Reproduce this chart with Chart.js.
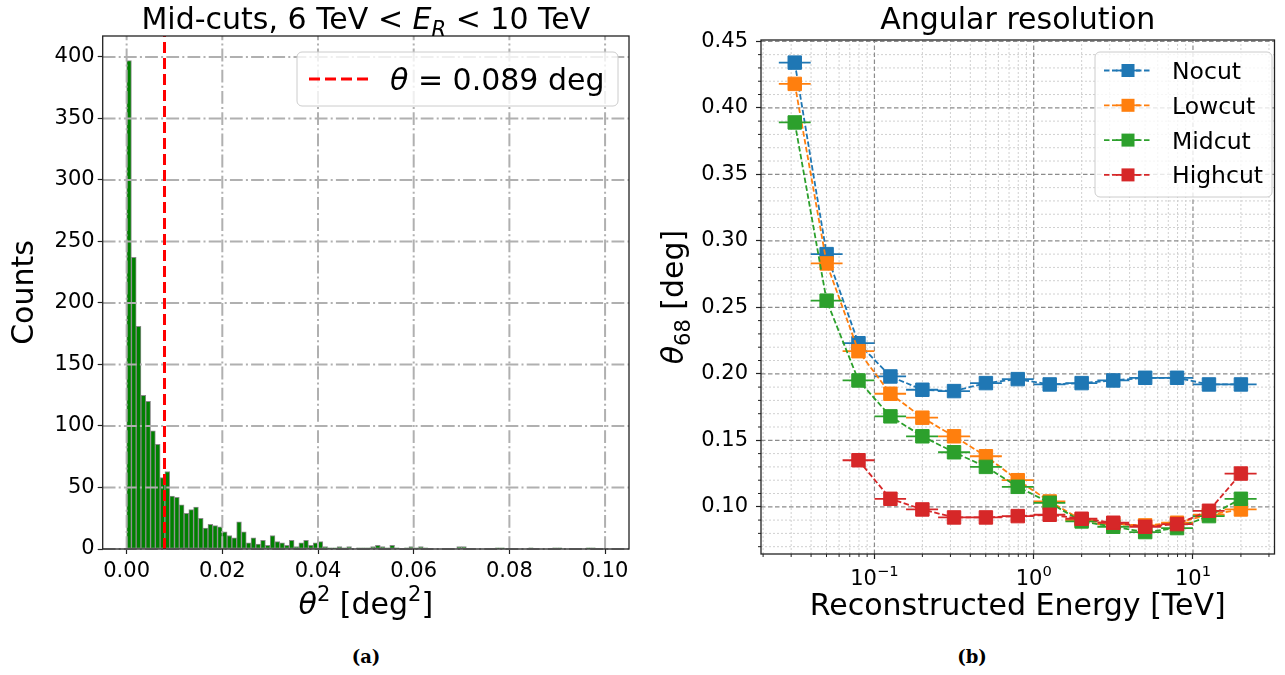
<!DOCTYPE html>
<html>
<head>
<meta charset="utf-8">
<script src="https://cdn.jsdelivr.net/npm/chart.js@4.4.1/dist/chart.umd.min.js"></script>
<style>
  body { margin: 0; background: #fff; width: 1285px; height: 675px; position: relative; overflow: hidden; }
  #histo { position: absolute; left: 0; top: 0; }
  #resol { position: absolute; left: 640px; top: 0; }
  .cap { position: absolute; top: 646px; font: bold 18px "DejaVu Serif", serif; transform: translateX(-50%); }
</style>
</head>
<body>
<canvas id="histo" width="640" height="640"></canvas>
<canvas id="resol" width="645" height="640"></canvas>
<div class="cap" style="left:366px">(a)</div>
<div class="cap" style="left:972px">(b)</div>
<script>
// --- theta^2 histogram (mid-cuts, 6-10 TeV) ---
const HIST_BIN_START = 0;
const HIST_BIN_WIDTH = 0.001;
const HIST_COUNTS = [
  397, 237, 181, 125, 120, 96, 85, 58, 63, 43,
  42, 36, 29, 32, 34, 25, 17, 20, 19, 18,
  14, 11, 9, 22, 14, 5, 9, 4, 7, 3,
  11, 6, 5, 3, 7, 2, 5, 7, 3, 5,
  6, 2, 1, 1, 2, 1, 2, 0, 1, 1,
  1, 2, 3, 2, 1, 3, 1, 0, 1, 2,
  1, 2, 1, 0, 0, 0, 0, 0, 0, 2,
  2, 0, 0, 0, 0, 0, 0, 1, 1, 0,
  0, 0, 0, 0, 1, 0, 0, 0, 0, 1,
  1, 0, 0, 0, 0, 0, 1, 1, 0, 0
];
const THETA_CUT = 0.089; // deg
const HIST_X_TICKS = [0, 0.02, 0.04, 0.06, 0.08, 0.10];
const HIST_Y_TICKS = [0, 50, 100, 150, 200, 250, 300, 350, 400];
const HIST_X_RANGE = [-0.005, 0.105];
const HIST_Y_RANGE = [0, 417];

// --- angular resolution vs reconstructed energy ---
const ENERGY    = [0.0316, 0.0501, 0.0794, 0.126, 0.200, 0.316, 0.501, 0.794, 1.26, 2.00, 3.16, 5.01, 7.94, 12.6, 20.0];
const ENERGY_LO = [0.0251, 0.0398, 0.0631, 0.100, 0.158, 0.251, 0.398, 0.631, 1.00, 1.58, 2.51, 3.98, 6.31, 10.0, 15.8];
const ENERGY_HI = [0.0398, 0.0631, 0.100, 0.158, 0.251, 0.398, 0.631, 1.00, 1.58, 2.51, 3.98, 6.31, 10.0, 15.8, 25.1];
const NOCUT   = [0.434, 0.290, 0.223, 0.198, 0.188, 0.187, 0.193, 0.196, 0.192, 0.193, 0.195, 0.197, 0.197, 0.192, 0.192];
const LOWCUT  = [0.418, 0.283, 0.217, 0.185, 0.167, 0.153, 0.138, 0.120, 0.104, 0.090, 0.087, 0.086, 0.088, 0.094, 0.098];
const MIDCUT  = [0.389, 0.255, 0.195, 0.168, 0.153, 0.141, 0.130, 0.115, 0.103, 0.089, 0.085, 0.081, 0.084, 0.093, 0.106];
const HIGHCUT = [null, null, 0.135, 0.106, 0.098, 0.092, 0.092, 0.093, 0.094, 0.091, 0.088, 0.085, 0.087, 0.097, 0.125];
const SERIES_NAMES = ['Nocut', 'Lowcut', 'Midcut', 'Highcut'];
const SERIES_COLORS = ['#1f77b4', '#ff7f0e', '#2ca02c', '#d62728'];
const RES_X_TICKS = [0.1, 1, 10];
const RES_Y_TICKS = [0.10, 0.15, 0.20, 0.25, 0.30, 0.35, 0.40, 0.45];
const RES_X_RANGE = [0.0194, 32.5];
const RES_Y_RANGE = [0.0645, 0.451];

const FONT = '"DejaVu Sans", sans-serif';
const TICK_SIZE = 21;
const LABEL_SIZE = 30;
Chart.defaults.font.family = FONT;
Chart.defaults.color = '#000';

// draws text made of plain / italic / sub / sup pieces
function drawRich(ctx, parts, x, baseline, size, align) {
  let total = 0;
  const items = parts.map(([t, st]) => {
    const small = st.includes('sub') || st.includes('sup');
    const font = (st.includes('i') ? 'italic ' : '') + (small ? size * 0.7 : size) + 'px ' + FONT;
    ctx.font = font;
    const w = ctx.measureText(t).width;
    total += w;
    const dy = st.includes('sub') ? size * 0.22 : st.includes('sup') ? -size * 0.42 : 0;
    return { t, font, w, dy };
  });
  let cx = align === 'center' ? x - total / 2 : align === 'right' ? x - total : x;
  ctx.textAlign = 'left';
  ctx.textBaseline = 'alphabetic';
  items.forEach(it => {
    ctx.font = it.font;
    ctx.fillText(it.t, cx, baseline + it.dy);
    cx += it.w;
  });
}

function strokeLine(ctx, x1, y1, x2, y2) {
  ctx.beginPath();
  ctx.moveTo(x1, y1);
  ctx.lineTo(x2, y2);
  ctx.stroke();
}

function drawFrame(ctx, a) {
  ctx.save();
  ctx.strokeStyle = '#222';
  ctx.lineWidth = 1.3;
  ctx.setLineDash([]);
  ctx.strokeRect(a.left, a.top, a.right - a.left, a.bottom - a.top);
  ctx.restore();
}

function legendBox(ctx, x, y, w, h) {
  ctx.save();
  ctx.fillStyle = 'rgba(255,255,255,0.8)';
  ctx.strokeStyle = '#cccccc';
  ctx.lineWidth = 1;
  ctx.beginPath();
  ctx.roundRect(x, y, w, h, 5);
  ctx.fill();
  ctx.stroke();
  ctx.restore();
}

const histDecor = {
  id: 'histDecor',
  afterDatasetDraw(chart, args) {
    if (args.meta.type !== 'bar') return;
    const { ctx, chartArea: a, scales: { x, y } } = chart;
    ctx.save();
    ctx.strokeStyle = '#b0b0b0';
    ctx.lineWidth = 2;
    ctx.setLineDash([12.8, 3.2, 2, 3.2]);
    HIST_X_TICKS.forEach(v => {
      const px = x.getPixelForValue(v);
      strokeLine(ctx, px, a.bottom, px, a.top);
    });
    HIST_Y_TICKS.forEach(v => {
      const py = y.getPixelForValue(v);
      strokeLine(ctx, a.left, py, a.right, py);
    });
    ctx.restore();
  },
  afterDraw(chart) {
    const { ctx, chartArea: a } = chart;
    drawFrame(ctx, a);
    const mid = (a.left + a.right) / 2;
    ctx.fillStyle = '#000';
    drawRich(ctx, [['Mid-cuts, 6 TeV < ', ''], ['E', 'i'], ['R', 'isub'], [' < 10 TeV', '']], mid, 29, LABEL_SIZE, 'center');
    drawRich(ctx, [['θ', 'i'], ['2', 'sup'], [' [deg', ''], ['2', 'sup'], [']', '']], mid, 614, LABEL_SIZE, 'center');
    ctx.save();
    ctx.translate(33, (a.top + a.bottom) / 2);
    ctx.rotate(-Math.PI / 2);
    drawRich(ctx, [['Counts', '']], 0, 0, LABEL_SIZE, 'center');
    ctx.restore();

    // legend for the cut line
    legendBox(ctx, 297, 52, 321, 54);
    ctx.save();
    ctx.strokeStyle = '#ff0000';
    ctx.lineWidth = 3;
    ctx.setLineDash([11, 5]);
    strokeLine(ctx, 309, 79, 368, 79);
    ctx.restore();
    ctx.fillStyle = '#000';
    drawRich(ctx, [['θ', 'i'], [' = ' + THETA_CUT.toFixed(3) + ' deg', '']], 390, 90, LABEL_SIZE, 'left');
  }
};

const cutX = THETA_CUT * THETA_CUT;

new Chart(document.getElementById('histo'), {
  type: 'bar',
  data: {
    datasets: [
      {
        type: 'line',
        data: [{ x: cutX, y: HIST_Y_RANGE[0] }, { x: cutX, y: HIST_Y_RANGE[1] }],
        borderColor: '#ff0000',
        borderWidth: 3,
        borderDash: [11, 5],
        pointRadius: 0,
        fill: false
      },
      {
        type: 'bar',
        data: HIST_COUNTS.map((c, i) => ({ x: HIST_BIN_START + (i + 0.5) * HIST_BIN_WIDTH, y: c })),
        backgroundColor: '#008000',
        borderColor: '#8a8a8a',
        borderWidth: 1,
        borderSkipped: false,
        barPercentage: 1,
        categoryPercentage: 1
      }
    ]
  },
  options: {
    responsive: false,
    animation: false,
    layout: { padding: { left: 0, right: 11, top: 36, bottom: 0 } },
    plugins: { legend: { display: false }, tooltip: { enabled: false } },
    scales: {
      x: {
        type: 'linear',
        min: HIST_X_RANGE[0],
        max: HIST_X_RANGE[1],
        offset: false,
        grid: { drawOnChartArea: false, offset: false, tickLength: 5, tickColor: '#222', tickWidth: 1.2 },
        border: { display: false },
        ticks: { font: { size: TICK_SIZE }, color: '#000', padding: 5, maxRotation: 0, autoSkip: false, callback: v => v.toFixed(2) },
        afterBuildTicks: s => { s.ticks = HIST_X_TICKS.map(v => ({ value: v })); },
        afterFit: s => { s.height = 91; }
      },
      y: {
        type: 'linear',
        min: HIST_Y_RANGE[0],
        max: HIST_Y_RANGE[1],
        grid: { drawOnChartArea: false, tickLength: 5, tickColor: '#222', tickWidth: 1.2 },
        border: { display: false },
        ticks: { font: { size: TICK_SIZE }, color: '#000', padding: 3, autoSkip: false },
        afterBuildTicks: s => { s.ticks = HIST_Y_TICKS.map(v => ({ value: v })); },
        afterFit: s => { s.width = 102.7; }
      }
    }
  },
  plugins: [histDecor]
});

const SERIES = [NOCUT, LOWCUT, MIDCUT, HIGHCUT];

const resDecor = {
  id: 'resDecor',
  beforeDatasetsDraw(chart) {
    const { ctx, chartArea: a, scales: { x, y } } = chart;
    ctx.save();
    // minor grid
    ctx.strokeStyle = '#d0d0d0';
    ctx.lineWidth = 1;
    ctx.setLineDash([2, 2]);
    for (let d = -2; d <= 1; d++) {
      for (let k = 2; k <= 9; k++) {
        const v = k * Math.pow(10, d);
        if (v <= RES_X_RANGE[0] || v >= RES_X_RANGE[1]) continue;
        const px = x.getPixelForValue(v);
        strokeLine(ctx, px, a.bottom, px, a.top);
      }
    }
    for (let m = 7; m <= 45; m++) {
      if (m % 5 === 0) continue;
      const py = y.getPixelForValue(m / 100);
      strokeLine(ctx, a.left, py, a.right, py);
    }
    // major grid
    ctx.strokeStyle = '#8c8c8c';
    ctx.lineWidth = 1.2;
    ctx.setLineDash([4.5, 2.5]);
    RES_X_TICKS.forEach(v => {
      const px = x.getPixelForValue(v);
      strokeLine(ctx, px, a.bottom, px, a.top);
    });
    RES_Y_TICKS.forEach(v => {
      const py = y.getPixelForValue(v);
      strokeLine(ctx, a.left, py, a.right, py);
    });
    ctx.restore();
  },
  beforeDatasetDraw(chart, args) {
    // horizontal error bars = energy bin widths
    const { ctx, chartArea: a, scales: { x, y } } = chart;
    const vals = SERIES[args.index];
    ctx.save();
    ctx.beginPath();
    ctx.rect(a.left, a.top, a.right - a.left, a.bottom - a.top);
    ctx.clip();
    ctx.strokeStyle = SERIES_COLORS[args.index];
    ctx.lineWidth = 1.8;
    ctx.setLineDash([]);
    vals.forEach((v, i) => {
      if (v === null) return;
      const py = y.getPixelForValue(v);
      strokeLine(ctx, x.getPixelForValue(ENERGY_LO[i]), py, x.getPixelForValue(ENERGY_HI[i]), py);
    });
    ctx.restore();
  },
  afterDatasetsDraw(chart) {
    const { ctx, chartArea: a, scales: { x, y } } = chart;
    drawFrame(ctx, a);
    // minor tick marks
    ctx.save();
    ctx.strokeStyle = '#222';
    ctx.lineWidth = 1;
    for (let d = -2; d <= 1; d++) {
      for (let k = 2; k <= 9; k++) {
        const v = k * Math.pow(10, d);
        if (v <= RES_X_RANGE[0] || v >= RES_X_RANGE[1]) continue;
        const px = x.getPixelForValue(v);
        strokeLine(ctx, px, a.bottom, px, a.bottom + 3);
      }
    }
    for (let m = 7; m <= 45; m++) {
      if (m % 5 === 0) continue;
      const py = y.getPixelForValue(m / 100);
      strokeLine(ctx, a.left, py, a.left - 3, py);
    }
    ctx.restore();
  },
  afterDraw(chart) {
    const { ctx, chartArea: a, scales: { x } } = chart;
    const mid = (a.left + a.right) / 2;
    ctx.fillStyle = '#000';
    RES_X_TICKS.forEach(v => {
      const e = Math.round(Math.log10(v));
      drawRich(ctx, [['10', ''], [String(e).replace('-', '\u2212'), 'sup']], x.getPixelForValue(v), 585, TICK_SIZE, 'center');
    });
    drawRich(ctx, [['Angular resolution', '']], mid, 29, LABEL_SIZE, 'center');
    drawRich(ctx, [['Reconstructed Energy [TeV]', '']], mid, 615, LABEL_SIZE, 'center');
    ctx.save();
    ctx.translate(43, (a.top + a.bottom) / 2);
    ctx.rotate(-Math.PI / 2);
    drawRich(ctx, [['θ', 'i'], ['68', 'sub'], [' [deg]', '']], 0, 0, LABEL_SIZE, 'center');
    ctx.restore();

    // legend
    legendBox(ctx, 455, 52, 177, 145);
    SERIES_NAMES.forEach((name, i) => {
      const ry = 70.5 + 34.8 * i;
      const col = SERIES_COLORS[i];
      ctx.save();
      ctx.strokeStyle = col;
      ctx.lineWidth = 1.8;
      ctx.setLineDash([5.5, 2.5]);
      strokeLine(ctx, 464, ry, 512, ry);
      ctx.setLineDash([]);
      strokeLine(ctx, 476, ry, 500, ry);
      ctx.fillStyle = col;
      ctx.fillRect(488 - 6.5, ry - 6.5, 13, 13);
      ctx.restore();
      ctx.fillStyle = '#000';
      drawRich(ctx, [[name, '']], 532, ry + 8.5, 23.5, 'left');
    });
  }
};

new Chart(document.getElementById('resol'), {
  type: 'line',
  data: {
    datasets: SERIES.map((vals, i) => ({
      label: SERIES_NAMES[i],
      data: ENERGY.map((e, j) => ({ x: e, y: vals[j] })),
      borderColor: SERIES_COLORS[i],
      backgroundColor: SERIES_COLORS[i],
      borderWidth: 1.8,
      borderDash: [5.5, 2.5],
      pointStyle: 'rect',
      pointRadius: 9.5,
      pointBorderWidth: 1,
      pointBorderColor: SERIES_COLORS[i],
      pointBackgroundColor: SERIES_COLORS[i],
      fill: false,
      tension: 0,
      order: SERIES.length - i
    }))
  },
  options: {
    responsive: false,
    animation: false,
    layout: { padding: { left: 0, right: 8, top: 40, bottom: 0 } },
    plugins: { legend: { display: false }, tooltip: { enabled: false } },
    scales: {
      x: {
        type: 'logarithmic',
        min: RES_X_RANGE[0],
        max: RES_X_RANGE[1],
        grid: { drawOnChartArea: false, tickLength: 5, tickColor: '#222', tickWidth: 1.2 },
        border: { display: false },
        ticks: { display: false, autoSkip: false },
        afterBuildTicks: s => { s.ticks = RES_X_TICKS.map(v => ({ value: v, major: true })); },
        afterFit: s => { s.height = 86; }
      },
      y: {
        type: 'linear',
        min: RES_Y_RANGE[0],
        max: RES_Y_RANGE[1],
        grid: { drawOnChartArea: false, tickLength: 5, tickColor: '#222', tickWidth: 1.2 },
        border: { display: false },
        ticks: { font: { size: TICK_SIZE }, color: '#000', padding: 8, autoSkip: false, callback: v => v.toFixed(2) },
        afterBuildTicks: s => { s.ticks = RES_Y_TICKS.map(v => ({ value: v })); },
        afterFit: s => { s.width = 121; }
      }
    }
  },
  plugins: [resDecor]
});
</script>
</body>
</html>
